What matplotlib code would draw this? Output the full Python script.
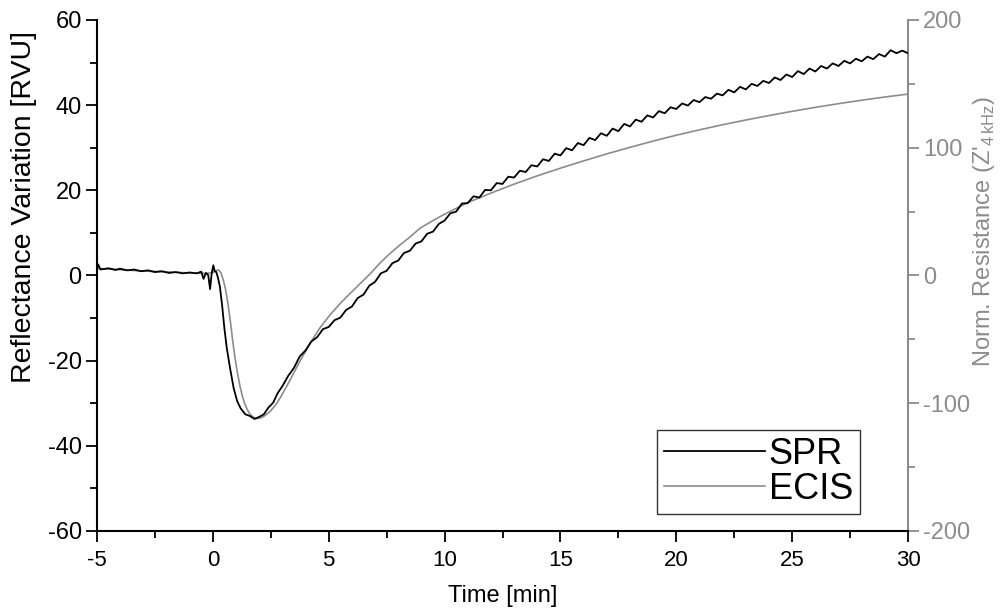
import matplotlib
matplotlib.use("Agg")
import matplotlib.pyplot as plt
from matplotlib.ticker import MultipleLocator

plt.rcParams["font.family"] = ["Liberation Sans", "DejaVu Sans"]
plt.rcParams["mathtext.fontset"] = "custom"
plt.rcParams["mathtext.rm"] = "Liberation Sans"
plt.rcParams["axes.unicode_minus"] = False

# SPR signal (left axis, RVU)
spr_t = [-5.0, -4.95, -4.85, -4.5, -4.2, -4.0, -3.7, -3.4, -3.1, -2.8, -2.5, -2.2, -1.9,
         -1.6, -1.3, -1.0, -0.7, -0.5, -0.4, -0.3, -0.2, -0.12, -0.05, 0.02, 0.08, 0.15,
         0.22, 0.3, 0.4, 0.5, 0.6, 0.75, 0.9, 1.05, 1.2, 1.4, 1.6, 1.8, 2.0, 2.2, 2.4,
         2.6, 2.8,
         3.0, 3.25, 3.5, 3.75, 4.0, 4.25, 4.5, 4.75, 5.0, 5.25, 5.5, 5.75, 6.0, 6.25,
         6.5, 6.75, 7.0, 7.25, 7.5, 7.75, 8.0, 8.25, 8.5, 8.75, 9.0, 9.25, 9.5, 9.75,
         10.0, 10.25, 10.5, 10.75, 11.0, 11.25, 11.5, 11.75, 12.0, 12.25, 12.5, 12.75,
         13.0, 13.25, 13.5, 13.75, 14.0, 14.25, 14.5, 14.75, 15.0, 15.25, 15.5, 15.75,
         16.0, 16.25, 16.5, 16.75, 17.0, 17.25, 17.5, 17.75, 18.0, 18.25, 18.5, 18.75,
         19.0, 19.25, 19.5, 19.75, 20.0, 20.25, 20.5, 20.75, 21.0, 21.25, 21.5, 21.75,
         22.0, 22.25, 22.5, 22.75, 23.0, 23.25, 23.5, 23.75, 24.0, 24.25, 24.5, 24.75,
         25.0, 25.25, 25.5, 25.75, 26.0, 26.25, 26.5, 26.75, 27.0, 27.25, 27.5, 27.75,
         28.0, 28.25, 28.5, 28.75, 29.0, 29.25, 29.5, 29.75, 30.0]
spr_v = [1.6, 2.6, 1.4, 1.7, 1.3, 1.6, 1.2, 1.4, 1.0, 1.2, 0.8, 1.0, 0.6,
         0.8, 0.5, 0.7, 0.5, 0.9, -0.8, 0.6, 0.1, -3.2, 0.5, 2.4, 1.0, 0.8,
         -0.5, -2.5, -7.0, -12.5, -17.0, -22.0, -26.5, -29.5, -31.2, -32.6, -33.0, -33.7, -33.2, -32.6, -31.0,
         -29.9, -27.6,
         -26.0, -23.6, -21.7, -19.0, -17.6, -15.5, -14.5, -12.6, -12.1, -10.5, -9.9, -8.1, -7.3, -5.3,
         -4.5, -2.4, -1.5, 0.5, 1.1, 2.9, 3.5, 5.3, 5.8, 7.5, 8.0, 9.8, 10.3, 12.1,
         12.9, 14.6, 15.0, 16.9, 17.0, 18.6, 18.3, 20.1, 20.0, 21.7, 21.5, 23.2,
         23.0, 24.6, 24.3, 25.9, 25.6, 27.3, 26.9, 28.6, 28.2, 29.9, 29.4, 31.1,
         30.6, 32.3, 31.8, 33.4, 32.8, 34.5, 33.9, 35.6, 35.0, 36.6, 36.1, 37.6,
         37.1, 38.6, 38.1, 39.5, 39.1, 40.4, 39.9, 41.2, 40.7, 41.9, 41.5, 42.7,
         42.3, 43.6, 43.0, 44.3, 43.7, 45.0, 44.5, 45.7, 45.2, 46.5, 45.9, 47.2,
         46.6, 48.0, 47.3, 48.6, 47.9, 49.2, 48.6, 49.8, 49.2, 50.4, 49.8, 50.9,
         50.3, 51.4, 50.8, 52.0, 51.4, 52.9, 52.2, 52.8, 52.2]

# ECIS signal (right axis, normalised resistance)
ecis_t = [-5.0, -4.0, -3.0, -2.0, -1.0, -0.3, 0.0, 0.15, 0.25, 0.35, 0.45, 0.55, 0.65,
          0.75, 0.85, 0.96, 1.07, 1.17, 1.28, 1.39, 1.5, 1.6, 1.75, 1.9, 2.05, 2.2,
          2.47, 2.7, 2.9, 3.3, 3.76, 4.2, 4.62, 5.05, 5.49, 5.9, 6.35, 6.8, 7.2, 7.6,
          8.08, 8.5, 8.94, 9.5, 10.0, 11.0, 12.0, 13.0, 14.0, 15.0, 16.0, 17.0, 18.0,
          19.0, 20.0, 21.0, 22.0, 23.0, 24.0, 25.0, 26.0, 27.0, 28.0, 29.0, 30.0]
ecis_v = [5.5, 4.5, 3.5, 2.8, 2.0, 1.6, 2.2, 4.0, 4.3, 2.0, -3.5, -11.0, -22.0,
          -35.0, -50.0, -65.0, -77.0, -86.5, -95.0, -101.0, -105.5, -108.5, -111.0, -112.0, -111.6, -110.3,
          -106.5, -101.5, -96.0, -83.0, -67.0, -53.0, -41.0, -31.0, -22.0, -14.5, -6.5, 1.5, 9.5, 16.5,
          24.0, 30.0, 37.0, 43.0, 48.0, 57.0, 64.5, 71.5, 78.0, 84.0, 89.7, 95.2, 100.3,
          105.2, 109.8, 114.0, 118.0, 121.7, 125.2, 128.5, 131.6, 134.5, 137.2, 139.7, 142.0]

GRAY = "#8c8c8c"

fig = plt.figure(figsize=(10.04, 6.13), dpi=100)
ax = fig.add_axes([0.0966, 0.1338, 0.8078, 0.8336])
ax2 = ax.twinx()

l1, = ax.plot(spr_t, spr_v, color="black", lw=1.3, label="SPR", zorder=3)
l2, = ax2.plot(ecis_t, ecis_v, color=GRAY, lw=1.2, label="ECIS")
ax.set_zorder(ax2.get_zorder() + 1)
ax.patch.set_visible(False)

ax.set_xlim(-5, 30)
ax.set_ylim(-60, 60)
ax2.set_ylim(-200, 200)

ax.xaxis.set_major_locator(MultipleLocator(5))
ax.xaxis.set_minor_locator(MultipleLocator(2.5))
ax.yaxis.set_major_locator(MultipleLocator(20))
ax.yaxis.set_minor_locator(MultipleLocator(10))
ax2.yaxis.set_major_locator(MultipleLocator(100))
ax2.yaxis.set_minor_locator(MultipleLocator(50))

for a in (ax, ax2):
    a.spines["top"].set_visible(False)
ax.spines["right"].set_visible(False)
ax2.spines["left"].set_visible(False)
ax2.spines["bottom"].set_visible(False)
for s in ("left", "bottom"):
    ax.spines[s].set_linewidth(1.5)
ax2.spines["right"].set_linewidth(1.5)
ax2.spines["right"].set_color(GRAY)

ax.tick_params(which="major", direction="out", length=8, width=1.3, pad=3)
ax.tick_params(which="minor", direction="out", length=5, width=1.3)
ax.tick_params(axis="y", labelsize=17)
ax.tick_params(axis="x", labelsize=16, pad=6)
ax2.tick_params(which="major", direction="out", length=8, width=1.3, labelsize=17,
                color=GRAY, labelcolor=GRAY, pad=3)
ax2.tick_params(which="minor", direction="out", length=5, width=1.3, color=GRAY)

ax.set_xlabel("Time [min]", fontsize=17, labelpad=10)
fig.text(24 / 1004, 1 - 207 / 613, "Reflectance Variation [RVU]", fontsize=20.5,
         rotation=90, ha="center", va="center")
fig.text(984 / 1004, 1 - 232 / 613, "Norm. Resistance (Z'$_{\\mathregular{4\\,kHz}}$)",
         fontsize=17, rotation=90, ha="center", va="center", color=GRAY)

leg = ax.legend(handles=[l1, l2], loc="lower right", bbox_to_anchor=(0.941, 0.033),
                borderaxespad=0, fontsize=26, frameon=True, fancybox=False,
                handlelength=2.8, handletextpad=0.1, borderpad=0.2, labelspacing=0.0)
leg.get_frame().set_edgecolor("black")
leg.get_frame().set_linewidth(1.0)

fig.savefig("out.png", dpi=100)
